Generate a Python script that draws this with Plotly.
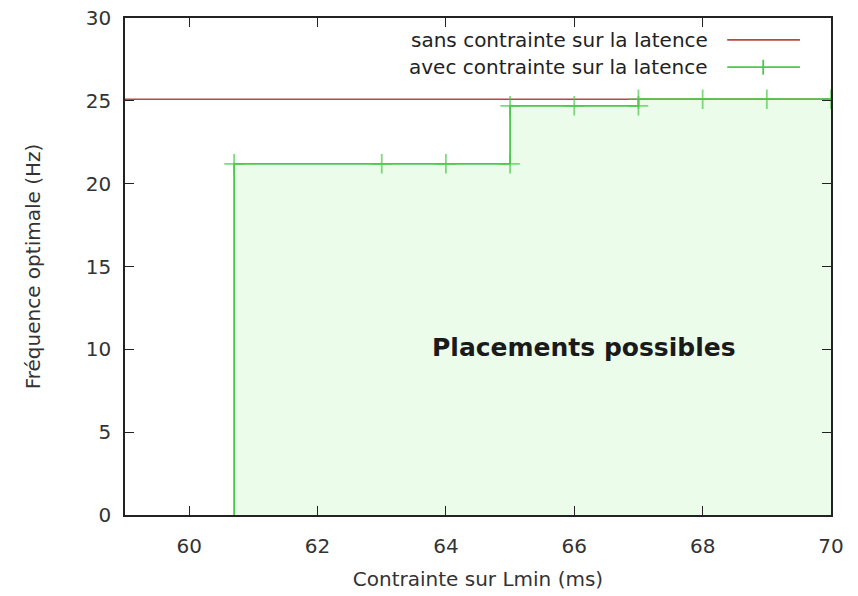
import plotly.graph_objects as go

# Data
x_range = [59, 70]
y_range = [0, 30]
ref_level = 25.1  # sans contrainte sur la latence
step_x = [60.7, 60.7, 63, 64, 65, 65, 66, 67, 67, 68, 69, 70]
step_y = [0, 21.2, 21.2, 21.2, 21.2, 24.7, 24.7, 24.7, 25.1, 25.1, 25.1, 25.1]
marker_sizes = [0, 14, 14, 14, 14, 14, 14, 14, 14, 14, 14, 14]
x_ticks = [60, 62, 64, 66, 68, 70]
y_ticks = [0, 5, 10, 15, 20, 25, 30]
legend_labels = ["sans contrainte sur la latence", "avec contrainte sur la latence"]
region_label = "Placements possibles"
region_pos = (66.15, 10.1)

RED = "#b8473d"
GREEN = "#4cc94c"
FILL = "rgba(228,251,228,0.75)"
FONT = "DejaVu Sans"

fig = go.Figure()

fig.add_trace(go.Scatter(
    x=x_range, y=[ref_level, ref_level], mode="lines",
    line=dict(color=RED, width=1.5), showlegend=False, hoverinfo="skip"))

fig.add_trace(go.Scatter(
    x=step_x, y=step_y, mode="lines+markers",
    line=dict(color=GREEN, width=1.8, shape="linear"),
    marker=dict(symbol="cross-thin-open", size=marker_sizes,
                line=dict(color=GREEN, width=1.8), color=GREEN),
    fill="tozeroy", fillcolor=FILL, showlegend=False))

fig.add_annotation(x=region_pos[0], y=region_pos[1], text=region_label,
                   showarrow=False, xref="x", yref="y",
                   font=dict(family=FONT, size=25, color="#1a1a1a", weight="bold"))

# Legend (gnuplot style: text right aligned, sample on the right)
leg_y = [0.956, 0.901]
colors = [RED, GREEN]
for lbl, yy, c in zip(legend_labels, leg_y, colors):
    fig.add_annotation(x=0.829, y=yy, xref="paper", yref="paper", text=lbl,
                       showarrow=False, xanchor="right", yanchor="middle",
                       font=dict(family=FONT, size=20, color="#222"))
    fig.add_shape(type="line", xref="paper", yref="paper",
                  x0=0.853, x1=0.956, y0=yy, y1=yy, line=dict(color=c, width=1.8))
fig.add_shape(type="line", xref="paper", yref="paper",
              x0=0.904, x1=0.904, y0=leg_y[1] - 0.015, y1=leg_y[1] + 0.015,
              line=dict(color=GREEN, width=1.8))

axis_common = dict(
    showline=True, linecolor="#222", linewidth=1.5, mirror="ticks",
    ticks="inside", ticklen=9, tickcolor="#222", tickwidth=1.2,
    showgrid=False, zeroline=False, automargin=False,
    ticklabeloverflow="allow",
    tickfont=dict(family=FONT, size=20, color="#333"),
)

fig.update_layout(
    width=858, height=596,
    margin=dict(l=125, r=27, t=18, b=81),
    paper_bgcolor="white", plot_bgcolor="white",
    hovermode=False,
    xaxis=dict(range=x_range, tickvals=x_ticks, ticklabelstandoff=12,
               title=dict(text="Contrainte sur Lmin (ms)", standoff=15,
                          font=dict(family=FONT, size=20, color="#333")),
               **axis_common),
    yaxis=dict(range=y_range, tickvals=y_ticks, ticklabelstandoff=8,
               title=dict(text="Fréquence optimale (Hz)", standoff=40,
                          font=dict(family=FONT, size=20, color="#333")),
               **axis_common),
)

fig.write_html("out.html", config={"displayModeBar": False},
               post_script="document.body.style.margin='0';")
